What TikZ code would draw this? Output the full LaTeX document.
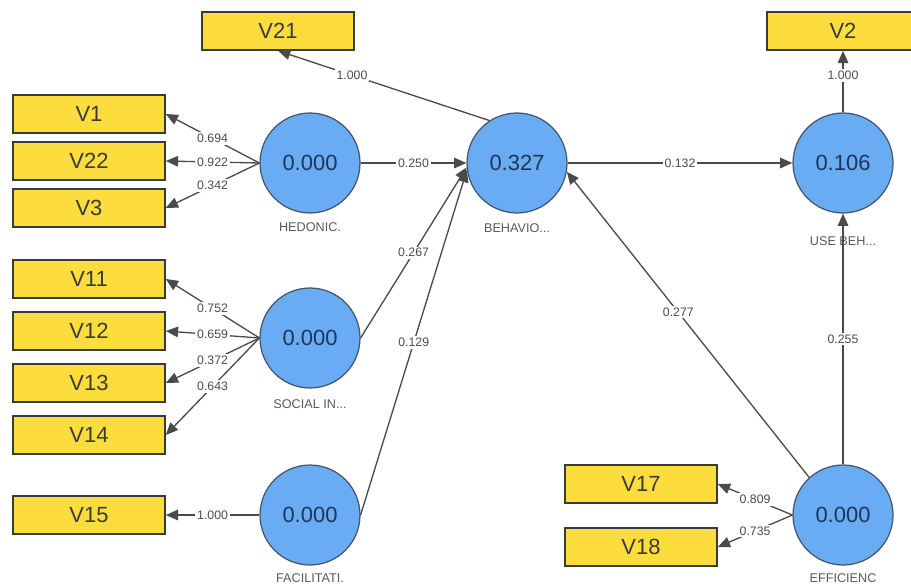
\documentclass[tikz,border=0pt]{standalone}
\usepackage{fontspec}
\setmainfont{Liberation Sans}
\usetikzlibrary{arrows.meta}

\definecolor{boxyellow}{HTML}{FDDD3E}
\definecolor{boxedge}{HTML}{3A3A3A}
\definecolor{lvblue}{HTML}{69ACF4}
\definecolor{lvedge}{HTML}{44556A}
\definecolor{lvtext}{HTML}{1E3656}
\definecolor{linegray}{HTML}{4A4A4A}

\tikzset{
  ind/.style={draw=boxedge,fill=boxyellow,line width=0.9pt,minimum width=3.04cm,
    minimum height=0.76cm,inner sep=0pt,text=boxedge,font=\fontsize{12.5}{14}\selectfont},
  latent/.style={circle,draw=lvedge,fill=lvblue,line width=0.7pt,minimum size=2cm,
    inner sep=0pt,text=lvtext,font=\fontsize{12.5}{14}\selectfont},
  lvname/.style={text=black!65,font=\fontsize{7.2}{8}\selectfont},
  path/.style={draw=linegray,line width=0.75pt,-{Triangle[length=7pt,width=6pt]}},
  wt/.style={fill=white,inner sep=1pt,text=black!70,font=\fontsize{7}{8}\selectfont}
}

\begin{document}
\begin{tikzpicture}[x=0.02cm,y=-0.02cm]

  \useasboundingbox (0,0) rectangle (911,584);

  % latent variables
  \node (hed) at (310,163) [latent] {0.000};
  \node (soc) at (310,338) [latent] {0.000};
  \node (fac) at (310,515) [latent] {0.000};
  \node (beh) at (517,163) [latent] {0.327};
  \node (use) at (843,163) [latent] {0.106};
  \node (eff) at (843,515) [latent] {0.000};

  \node (hedname) at (310,227) [lvname] {HEDONIC.};
  \node (socname) at (310,404) [lvname] {SOCIAL IN...};
  \node (facname) at (310,578) [lvname] {FACILITATI.};
  \node (behname) at (517,228) [lvname] {BEHAVIO...};
  \node (usename) at (843,241) [lvname] {USE BEH...};
  \node (effname) at (843,578) [lvname] {EFFICIENC};

  % indicators
  \foreach \name/\y/\w in {V1/114/0.694,V22/161/0.922,V3/208/0.342} {
    \node (\name) at (89,\y) [ind] {\name};
    \draw[path] (hed.west) -- node[wt] {\w} (\name.east);
  }

  \foreach \name/\y/\w in {V11/279/0.752,V12/331/0.659,V13/383/0.372,V14/435/0.643} {
    \node (\name) at (89,\y) [ind] {\name};
    \draw[path] (soc.west) -- node[wt] {\w} (\name.east);
  }

  \node (V15) at (89,515) [ind] {V15};
  \draw[path] (fac.west) -- node[wt] {1.000} (V15.east);

  \foreach \name/\y/\w in {V17/484/0.809,V18/547/0.735} {
    \node (\name) at (641,\y) [ind] {\name};
    \draw[path] (eff.west) -- node[wt] {\w} (\name.east);
  }

  \node (V21) at (278,31) [ind] {V21};
  \draw[path] (beh.123) -- node[wt,pos=0.65] {1.000} (V21.south);

  \node (V2) at (843,31) [ind] {V2};
  \draw[path] (use.north) -- node[wt,pos=0.6] {1.000} (V2.south);

  % structural paths
  \draw[path] (hed.east) -- node[wt] {0.250} (beh.west);
  \draw[path] (soc.east) -- node[wt] {0.267} (beh.185);
  \draw[path] (fac.east) -- node[wt] {0.129} (beh.188);
  \draw[path] (beh.east) -- node[wt] {0.132} (use.west);
  \draw[path] (eff.132) -- node[wt,pos=0.54] {0.277} (beh.-10);
  \draw[path] (eff.north) -- node[wt] {0.255} (use.south);

\end{tikzpicture}
\end{document}
